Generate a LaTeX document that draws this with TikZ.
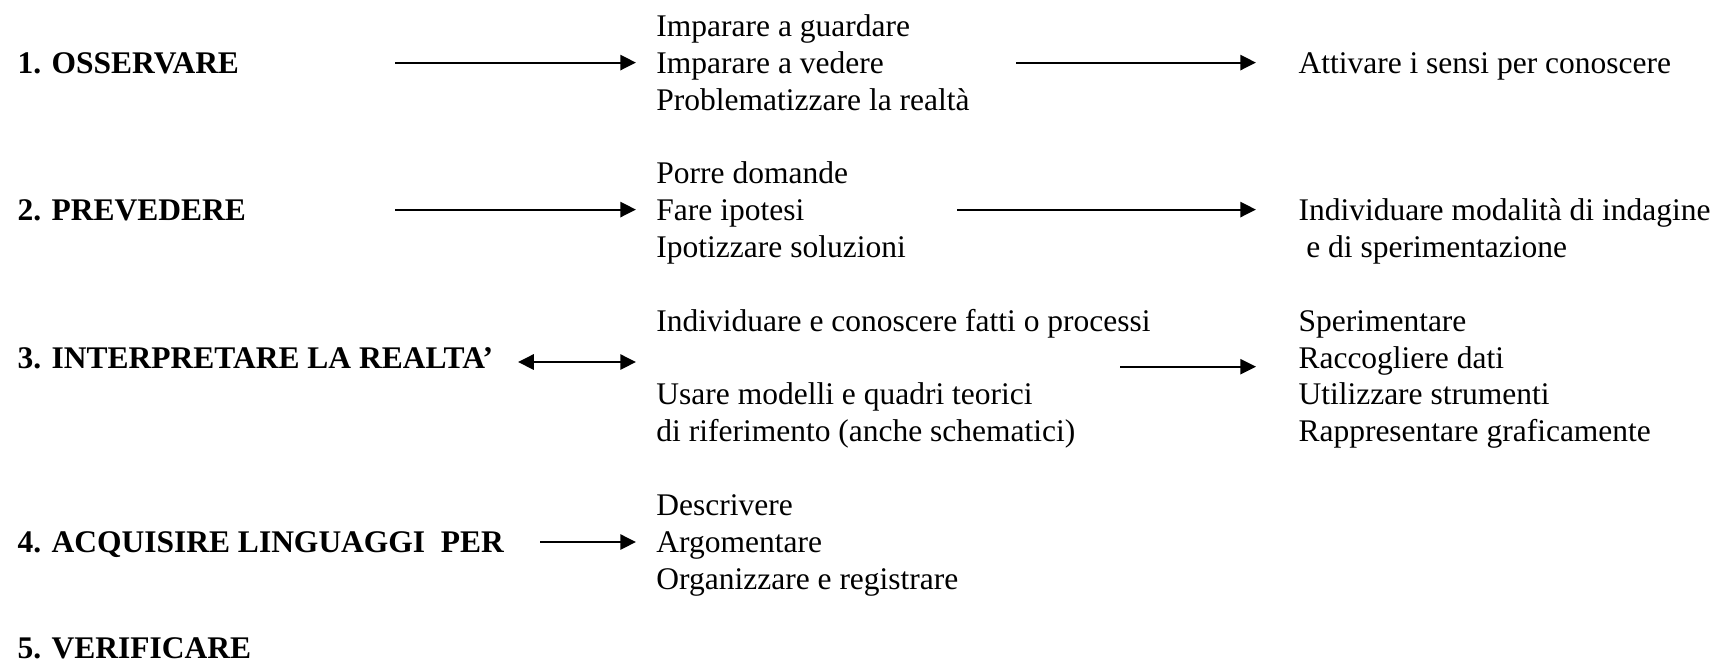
\documentclass[tikz,border=0pt]{standalone}
\usepackage{fontspec}
\setmainfont{Liberation Serif}
\usetikzlibrary{arrows.meta}

\begin{document}
\begin{tikzpicture}[x=0.381pt,y=-0.381pt,
    phase/.style={anchor=base west,inner sep=0pt,font=\fontsize{12}{14}\selectfont\bfseries},
    act/.style={anchor=base west,inner xsep=7.6pt,inner ysep=0pt,font=\fontsize{12}{14}\selectfont},
    goal/.style={anchor=base west,inner xsep=16pt,inner ysep=0pt,font=\fontsize{12}{14}\selectfont}]
	\useasboundingbox (0,0) rectangle (1721,664);

	\begin{scope}
	    % fasi
	    \node[phase] (l1) at (17,73.5) {1. OSSERVARE};
	    \node[phase] (l2) at (17,220.5) {2. PREVEDERE};
	    \node[phase] (l3) at (17,368) {3. INTERPRETARE LA REALTA’};
	    \node[phase] (l4) at (17,552.5) {4. ACQUISIRE LINGUAGGI\ \ PER};
	    \node[phase] (l5) at (17,658) {5. VERIFICARE};

	    % attivita
	    \node[act] (m1a) at (636,36.7) {Imparare a guardare};
	    \node[act] (m1b) at (636,73.5) {Imparare a vedere};
	    \node[act] (m1c) at (636,110.3) {Problematizzare la realtà};
	    \node[act] (m2a) at (636,183.7) {Porre domande};
	    \node[act] (m2b) at (636,220.5) {Fare ipotesi};
	    \node[act] (m2c) at (636,257.3) {Ipotizzare soluzioni};
	    \node[act] (m3a) at (636,331.2) {Individuare e conoscere fatti o processi};
	    \node[act] (m3b) at (636,404.8) {Usare modelli e quadri teorici};
	    \node[act] (m3c) at (636,441.6) {di riferimento (anche schematici)};
	    \node[act] (m4a) at (636,515.7) {Descrivere};
	    \node[act] (m4b) at (636,552.5) {Argomentare};
	    \node[act] (m4c) at (636,589.3) {Organizzare e registrare};

	    % obiettivi
	    \node[goal] (r1a) at (1256,73.5) {Attivare i sensi per conoscere};
	    \node[goal] (r2a) at (1256,220.5) {Individuare modalità di indagine};
	    \node[goal] (r2b) at (1256,257.3) {\ e di sperimentazione};
	    \node[goal] (r3a) at (1256,331.2) {Sperimentare};
	    \node[goal] (r3b) at (1256,368) {Raccogliere dati};
	    \node[goal] (r3c) at (1256,404.8) {Utilizzare strumenti};
	    \node[goal] (r3d) at (1256,441.6) {Rappresentare graficamente};
	\end{scope}

	\coordinate (a1) at (395,62.6);
	\coordinate (b1) at (1016,62.6);
	\coordinate (a2) at (395,209.6);
	\coordinate (b2) at (957,209.6);
	\coordinate (a3) at (518,362);
	\coordinate (b3) at (1120,366.7);
	\coordinate (a4) at (540,542);

	\begin{scope}[>={Triangle[length=6pt,width=5.8pt]},
	              every edge/.style={draw=black,line width=0.8pt}]
    	\path [->] (a1) edge (a1 -| m1b.west);
    	\path [->] (b1) edge (b1 -| r1a.west);
    	\path [->] (a2) edge (a2 -| m2b.west);
    	\path [->] (b2) edge (b2 -| r2a.west);
    	\path [<->] (a3) edge (a3 -| m3a.west);
    	\path [->] (b3) edge (b3 -| r3b.west);
    	\path [->] (a4) edge (a4 -| m4b.west);
	\end{scope}
\end{tikzpicture}
\end{document}
